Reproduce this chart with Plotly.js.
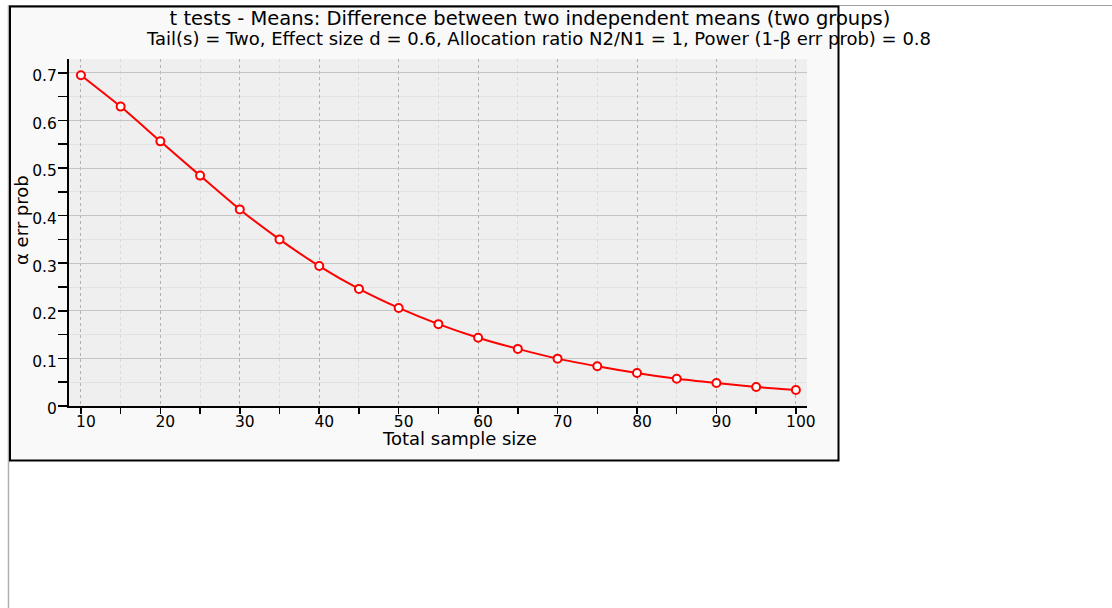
<!DOCTYPE html>
<html>
<head>
<meta charset="utf-8">
<script src="https://cdn.plot.ly/plotly-3.0.1.min.js"></script>
<style>
  html, body { margin: 0; padding: 0; background: #ffffff; }
  #chart { width: 1112px; height: 608px; }
</style>
</head>
<body>
<div id="chart"></div>
<script>
// ---- data ----
const titleText = "t tests - Means: Difference between two independent means (two groups)";
const subtitleText = "Tail(s) = Two, Effect size d = 0.6, Allocation ratio N2/N1 = 1, Power (1-β err prob) = 0.8";
const xTitle = "Total sample size";
const yTitle = "α err prob";
const totalSampleSize = [10, 15, 20, 25, 30, 35, 40, 45, 50, 55, 60, 65, 70, 75, 80, 85, 90, 95, 100];
const alphaErrProb = [0.695, 0.629, 0.556, 0.484, 0.413, 0.350, 0.294, 0.246, 0.206, 0.172, 0.1435, 0.120, 0.0995, 0.0834, 0.0693, 0.0574, 0.0483, 0.040, 0.0336];

// ---- geometry (pixels) ----
const W = 1112, H = 608;
const L = 69, R = 807, T = 59, B = 406;
const pw = R - L, ph = B - T;
const px = v => (v - L) / pw;
const py = v => (B - v) / ph;

const FONT = "DejaVu Sans, sans-serif";

const trace = {
  x: totalSampleSize,
  y: alphaErrProb,
  type: "scatter",
  mode: "lines+markers",
  line: { color: "#ff0000", width: 2, shape: "spline", smoothing: 0.6 },
  marker: { symbol: "circle", size: 8, color: "#ffffff", line: { color: "#ff0000", width: 2 } },
  hoverinfo: "x+y",
  showlegend: false
};

const layout = {
  width: W, height: H,
  margin: { l: L, r: W - R, t: T, b: H - B, pad: 0 },
  paper_bgcolor: "#ffffff",
  plot_bgcolor: "rgba(0,0,0,0)",
  font: { family: FONT, color: "#000000", size: 15 },
  showlegend: false,
  title: {
    text: titleText,
    font: { family: FONT, size: 19.5, color: "#000000" },
    xref: "container", yref: "container",
    x: 530 / W, y: 1 - 18.5 / H,
    xanchor: "center", yanchor: "middle"
  },
  xaxis: {
    range: [8.5, 101.4],
    tickmode: "linear", tick0: 10, dtick: 10,
    ticks: "outside", ticklen: 6, tickwidth: 1.5, tickcolor: "#000000",
    ticklabelshift: 5,
    ticklabelstandoff: -6,
    tickfont: { family: FONT, size: 15.5, color: "#000000" },
    showline: true, linecolor: "#000000", linewidth: 2,
    showgrid: true, gridcolor: "#b0b0b0", gridwidth: 1, griddash: "dot",
    zeroline: false,
    minor: {
      tick0: 5, dtick: 5, ticks: "outside", ticklen: 6, tickwidth: 1.5, tickcolor: "#000000",
      showgrid: true, gridcolor: "#dadada", gridwidth: 1, griddash: "dot"
    },
    title: { text: "" },
    fixedrange: true
  },
  yaxis: {
    range: [0, 0.729],
    tickmode: "linear", tick0: 0, dtick: 0.1,
    ticks: "outside", ticklen: 9, tickwidth: 1.5, tickcolor: "#000000",
    ticklabelstandoff: -2,
    ticklabelshift: 3,
    tickfont: { family: FONT, size: 15.5, color: "#000000" },
    showline: true, linecolor: "#000000", linewidth: 2,
    showgrid: true, gridcolor: "#c4c4c4", gridwidth: 1,
    zeroline: false,
    minor: {
      tick0: 0, dtick: 0.05, ticks: "outside", ticklen: 9, tickwidth: 1.5, tickcolor: "#000000",
      showgrid: true, gridcolor: "#e2e2e2", gridwidth: 1
    },
    title: { text: "" },
    fixedrange: true
  },
  annotations: [
    {
      text: subtitleText, xref: "paper", yref: "paper",
      x: px(538), y: py(38.5), xanchor: "center", yanchor: "middle",
      showarrow: false, font: { family: FONT, size: 18, color: "#000000" }
    },
    {
      text: xTitle, xref: "paper", yref: "paper",
      x: px(459), y: py(438), xanchor: "center", yanchor: "middle",
      showarrow: false, font: { family: FONT, size: 18, color: "#000000" }
    },
    {
      text: yTitle, xref: "paper", yref: "paper",
      x: px(21), y: py(220), xanchor: "center", yanchor: "middle",
      textangle: -90,
      showarrow: false, font: { family: FONT, size: 18, color: "#000000" }
    }
  ],
  shapes: [
    // outer page guide lines
    { type: "line", xref: "paper", yref: "paper", layer: "below",
      x0: px(9), x1: px(W), y0: py(5.5), y1: py(5.5), line: { color: "#a0a0a0", width: 1 } },
    { type: "line", xref: "paper", yref: "paper", layer: "below",
      x0: px(8.5), x1: px(8.5), y0: py(5), y1: py(H), line: { color: "#b0b0b0", width: 1.5 } },
    // frame
    { type: "rect", xref: "paper", yref: "paper", layer: "below",
      x0: px(10), x1: px(838.5), y0: py(6.5), y1: py(460.5),
      fillcolor: "#f9f9f9", line: { color: "#000000", width: 2 } },
    // plot area background
    { type: "rect", xref: "paper", yref: "paper", layer: "below",
      x0: 0, x1: 1, y0: 0, y1: 1,
      fillcolor: "#efefef", line: { width: 0 } }
  ]
};

Plotly.newPlot("chart", [trace], layout, { displayModeBar: false, staticPlot: true });
</script>
</body>
</html>
